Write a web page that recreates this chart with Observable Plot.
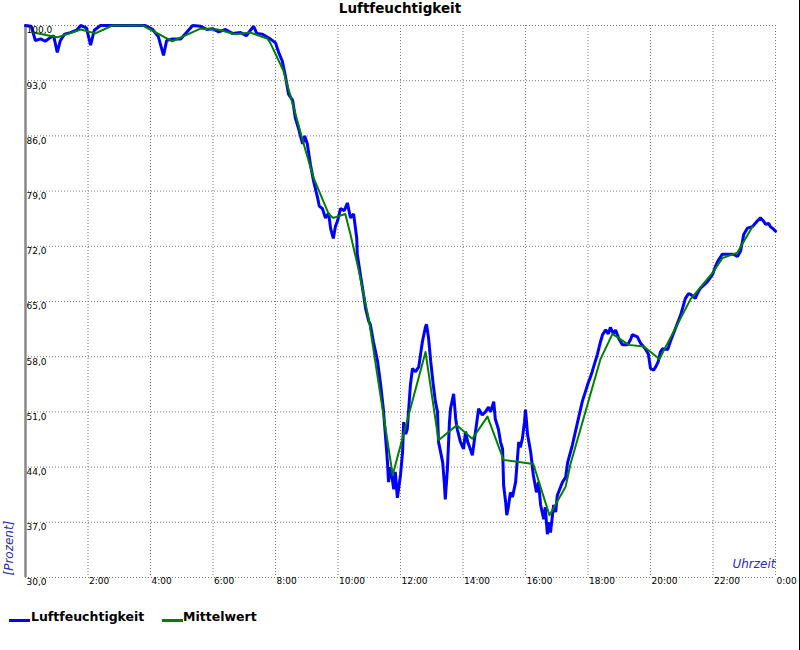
<!DOCTYPE html>
<html><head><meta charset="utf-8">
<script src="https://cdn.jsdelivr.net/npm/d3@7"></script>
<script src="https://cdn.jsdelivr.net/npm/@observablehq/plot@0.6"></script>
<style>
body{margin:0;background:#fff;font-family:"DejaVu Sans",sans-serif;}
#wrap{position:relative;width:800px;height:650px;overflow:hidden;}
#edge{position:absolute;top:0;left:799px;width:1px;height:650px;background:#000;}
#title{position:absolute;top:0;left:0;width:800px;text-align:center;font-weight:bold;font-size:13.5px;line-height:17px;color:#000;}
#chart{position:absolute;top:0;left:0;}
.leg{position:absolute;top:609px;font-weight:bold;font-size:12.5px;line-height:16px;color:#000;white-space:nowrap;}
.sw{position:absolute;width:21px;height:3px;}
</style></head>
<body>
<div id="wrap">
  <div id="chart"></div>
  <div id="title">Luftfeuchtigkeit</div>
  <div class="sw" style="left:9px;top:619px;background:#0000ff"></div>
  <div class="leg" style="left:31px">Luftfeuchtigkeit</div>
  <div class="sw" style="left:162px;top:619px;background:#008000"></div>
  <div class="leg" style="left:183px">Mittelwert</div>
  <div id="edge"></div>
</div>
<script>
// Time in minutes after midnight, relative humidity in %
const humidityTime = [0,11,19,29,38,48,54,61,67,75,86,98,106,117,125,132,144,230,244,255,265,271,282,298,309,321,336,348,359,371,384,397,413,424,432,438,444,455,465,470,480,486,493,499,505,513,518,524,532,536,541,547,553,561,564,570,576,582,586,591,595,599,605,612,618,624,630,636,637,643,649,653,659,662,668,676,682,687,691,695,697,701,707,710,714,720,724,726,730,733,739,743,749,755,762,768,770,774,778,783,787,791,793,797,801,804,806,810,814,816,822,826,829,835,841,845,849,854,858,864,870,877,883,889,893,899,902,908,912,916,918,922,924,927,931,935,941,947,950,954,958,960,964,970,975,981,985,989,995,998,1002,1006,1008,1014,1018,1021,1031,1037,1041,1050,1060,1069,1079,1085,1088,1098,1104,1108,1114,1119,1123,1129,1133,1139,1146,1156,1162,1165,1175,1181,1190,1196,1200,1206,1210,1215,1219,1223,1233,1238,1248,1258,1267,1273,1277,1286,1290,1296,1309,1319,1325,1329,1338,1350,1359,1367,1373,1379,1386,1396,1405,1411,1417,1421,1427,1430,1436,1440];
const humidityValue = [100,99.9,98.1,98.3,98.0,98.5,98.7,96.6,98.1,98.9,99.1,99.4,100,99.7,97.5,99.4,100,100,99.5,98.6,96.2,98.1,98.3,98.3,99.1,100,99.9,99.5,99.6,99.2,99.5,99.0,99.1,98.7,99.4,99.9,99.0,98.9,98.5,98.3,97.8,96.6,95.5,93.6,91.3,90.5,88.3,87.0,85.0,86.0,85.0,82.4,80.3,78.1,77.1,76.8,75.6,76.2,74.2,73.0,74.5,75.2,76.8,76.5,77.5,75.6,76.1,73.0,71.0,68.4,65.9,64.1,62.5,62.1,59.9,57.4,54.4,51.4,48.1,44.6,42.1,44.0,41.2,43.4,40.1,43.0,45.9,49.7,48.2,48.8,54.4,56.5,56.1,56.7,59.9,61.8,62.1,60.3,57.4,54.4,52.3,51.0,47.2,45.9,44.6,42.1,39.9,43.7,49.7,51.4,53.3,50.1,48.8,47.2,46.3,48.5,47.2,46.3,45.5,48.5,51.4,50.6,51.0,51.6,51.0,52.3,50.1,48.8,47.2,46.3,41.7,39.5,37.9,38.9,40.8,40.2,42.1,47.2,46.5,47.6,49.7,51.3,48.1,45.9,43.0,40.8,42.1,39.2,37.4,38.9,35.5,37.0,35.7,39.2,38.3,40.4,42.1,42.7,44.6,46.8,49.7,52.3,54.4,55.5,56.1,58.3,59.9,60.8,61.4,60.9,61.7,60.9,61.4,60.3,59.5,59.5,60.2,60.8,60.5,59.7,59.0,58.3,56.5,56.3,56.7,57.4,58.6,59.0,58.9,59.9,61.6,63.3,65.4,66.0,65.9,65.4,66.0,66.7,67.5,68.4,69.5,70.1,71.0,71.0,71.0,70.7,71.4,73.5,74.3,74.5,75.2,75.6,75.2,74.8,74.9,74.5,74.2,73.9];
const meanTime = [15,61,106,134,167,225,282,336,369,403,432,465,470,495,515,534,553,582,591,614,624,639,659,705,768,793,828,858,887,918,975,1006,1037,1046,1104,1127,1158,1187,1217,1277,1321,1338,1367,1379,1396];
const meanValue = [99.1,98.5,99.5,99.0,100,100,98.0,99.6,99.5,98.9,99.1,98.3,97.8,94.3,89.6,85.0,80.7,76.1,75.6,76.1,73.5,69.2,62.8,43.0,58.6,47.4,49.3,47.6,50.4,44.9,44.4,37.9,41.5,44.3,57.7,60.9,59.5,59.3,57.7,65.3,68.8,70.5,71.2,72.6,74.5];
const yTicks = [30,37,44,51,58,65,72,79,86,93,100];
const xTicks = [0,120,240,360,480,600,720,840,960,1080,1200,1320,1440];

const humidity = humidityTime.map((t,i)=>({t, v: humidityValue[i]}));
const mean = meanTime.map((t,i)=>({t, v: meanValue[i]}));
const fmtY = d => d.toFixed(1).replace(".", ",");
const fmtX = d => `${Math.round(d/60)%24}:00`;
const font = "DejaVu Sans";

const chart = Plot.plot({
  width: 800, height: 600,
  marginTop: 25, marginBottom: 23, marginLeft: 25, marginRight: 25,
  style: {fontFamily: font, background: "transparent", overflow: "hidden"},
  x: {domain: [0, 1440], axis: null},
  y: {domain: [30, 100], axis: null},
  marks: [
    Plot.gridX(xTicks, {stroke: "#777", strokeOpacity: 1, strokeDasharray: "1,2"}),
    Plot.gridY(yTicks, {stroke: "#777", strokeOpacity: 1, strokeDasharray: "1,2"}),
    Plot.ruleX([0], {stroke: "#888", strokeWidth: 2.5}),
    Plot.line(humidity, {x: "t", y: "v", stroke: "#0000ff", strokeWidth: 3, strokeLinejoin: "miter"}),
    Plot.line(mean, {x: "t", y: "v", stroke: "#008000", strokeWidth: 2}),
    Plot.text(yTicks, {x: 0, y: d => d, text: fmtY, textAnchor: "start", dx: 1, dy: 5, fontSize: 9, fill: "#000"}),
    Plot.text(xTicks.slice(1), {x: d => d, y: 30, text: fmtX, textAnchor: "start", dx: 1, dy: 4, fontSize: 9, fill: "#000"}),
    Plot.text(["Uhrzeit"], {frameAnchor: "bottom-right", textAnchor: "end", dy: -10, fontSize: 12, fontStyle: "italic", fill: "#2a2ab4"}),
    Plot.text(["[Prozent]"], {frameAnchor: "bottom-left", textAnchor: "start", rotate: -90, dx: -13, dy: -2, fontSize: 12, fontStyle: "italic", fill: "#2a2ab4"})
  ]
});
document.getElementById("chart").appendChild(chart);
</script>
</body></html>
